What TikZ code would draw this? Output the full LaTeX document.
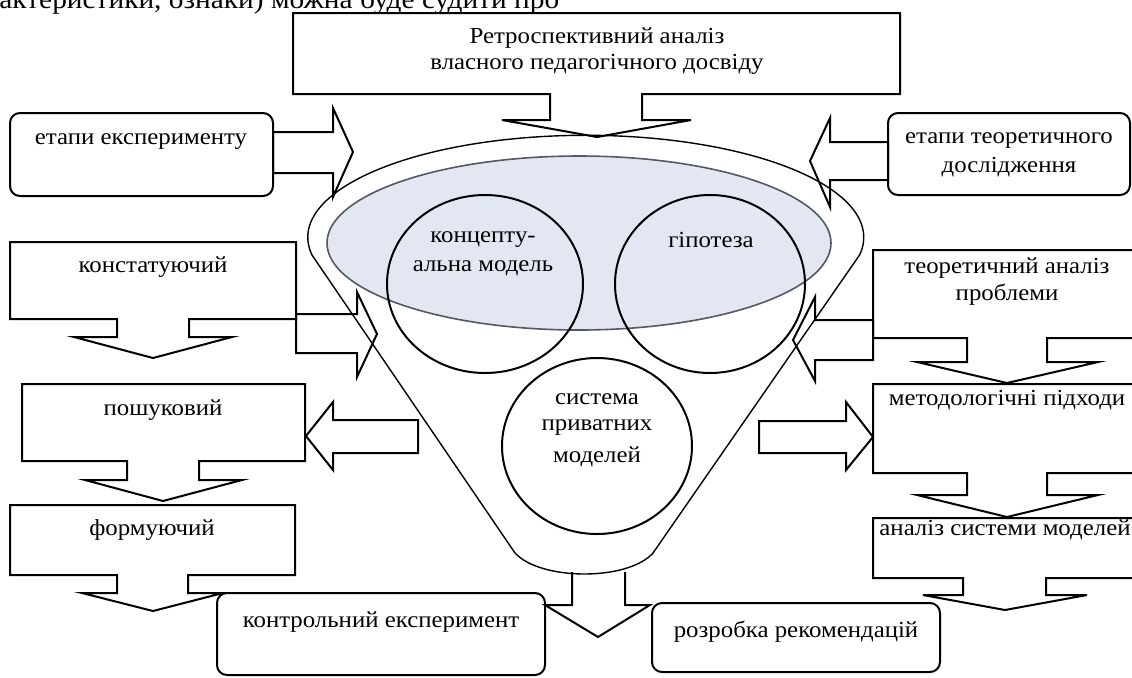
\documentclass[tikz,border=0pt]{standalone}
\usepackage{fontspec}
\setmainfont{Liberation Serif}[FakeStretch=1.08]
\definecolor{rimfill}{RGB}{226,231,241}
\definecolor{rimline}{RGB}{85,88,100}

\begin{document}
\begin{tikzpicture}[x=0.5pt,y=-0.5pt,
  blk/.style={draw, line width=1pt, line join=miter},
  fun/.style={draw, line width=0.7pt},
  txt/.style={inner sep=0pt, align=center, font=\fontsize{11.5pt}{13pt}\selectfont}]
\clip (0,0) rectangle (1132,677);
\node[anchor=base west, inner sep=0pt, font=\fontsize{13.6pt}{16pt}\selectfont] (prev) at (-43,8) {характеристики, ознаки) можна буде судити про};
\draw[rimline, fill=rimfill, line width=0.8pt] (579,243) ellipse[x radius=252, y radius=87];
\draw[fun] (515,553) -- (312,255) arc[start angle=170, end angle=370, x radius=278, y radius=102] -- (653,553) .. controls (628,581) and (541,581) .. (515,553);
\draw[blk] (485,284) ellipse[x radius=98, y radius=89];
\draw[blk] (710,284) ellipse[x radius=95, y radius=89];
\draw[blk] (597,446) ellipse[x radius=95, y radius=88];
\draw[blk] (293,13) -- (900,13) -- (900,94) -- (642,94) -- (642,120) -- (691,120) -- (597,137) -- (502,120) -- (550,120) -- (550,94) -- (293,94) -- cycle;
\draw[blk, rounded corners=5pt] (10,113) rectangle (273,196);
\draw[blk] (273,132) -- (333,132) -- (333,108) -- (353,152) -- (333,197) -- (333,173) -- (273,173) -- cycle;
\draw[blk, rounded corners=5pt] (888,113) rectangle (1130,195);
\draw[blk] (888,142) -- (830,142) -- (830,118) -- (810,161) -- (830,207) -- (830,180) -- (888,180) -- cycle;
\draw[blk] (10,242) -- (296,242) -- (296,319) -- (189,319) -- (189,337) -- (232,337) -- (153,358) -- (74,337) -- (117,337) -- (117,319) -- (10,319) -- cycle;
\draw[blk] (296,314) -- (357,314) -- (357,292) -- (377,334) -- (357,377) -- (357,353) -- (296,353) -- cycle;
\draw[blk] (22,384) -- (305,384) -- (305,461) -- (199,461) -- (199,480) -- (242,480) -- (163,501) -- (85,480) -- (127,480) -- (127,461) -- (22,461) -- cycle;
\draw[blk] (418,420) -- (333,420) -- (333,402) -- (306,436) -- (333,470) -- (333,453) -- (418,453) -- cycle;
\draw[blk] (10,505) -- (295,505) -- (295,575) -- (188,575) -- (188,593) -- (223,593) -- (153,611) -- (82,593) -- (117,593) -- (117,575) -- (10,575) -- cycle;
\draw[blk] (873,250) -- (1141,250) -- (1141,338) -- (1047,338) -- (1047,362) -- (1098,362) -- (1007,383) -- (917,362) -- (967,362) -- (967,338) -- (873,338) -- cycle;
\draw[blk] (873,320) -- (815,320) -- (815,297) -- (793,340) -- (815,381) -- (815,360) -- (873,360) -- cycle;
\draw[blk] (873,384) -- (1141,384) -- (1141,473) -- (1047,473) -- (1047,495) -- (1098,495) -- (1007,517) -- (917,495) -- (967,495) -- (967,473) -- (873,473) -- cycle;
\draw[blk] (759,421) -- (846,421) -- (846,402) -- (873,437) -- (846,470) -- (846,453) -- (759,453) -- cycle;
\draw[blk] (873,518) -- (1141,518) -- (1141,578) -- (1046,578) -- (1046,595) -- (1087,595) -- (1005,610) -- (923,595) -- (963,595) -- (963,578) -- (873,578) -- cycle;
\draw[blk] (572,572) -- (572,605) -- (545,605) -- (598,637) -- (650,605) -- (625,605) -- (625,572);
\draw[blk, rounded corners=5pt] (217,593) rectangle (545,675);
\draw[blk, rounded corners=5pt] (652,603) rectangle (940,672);
\node[txt] (retro) at (597,38) {Ретроспективний аналіз};
\node[txt] (retro2) at (597,64) {власного педагогічного досвіду};
\node[txt] (etexp) at (141,142) {етапи експерименту};
\node[txt] (etteor) at (1009,141) {етапи теоретичного};
\node[txt] (etteor2) at (1009,167) {дослідження};
\node[txt] (konst) at (153,267) {констатуючий};
\node[txt] (poshuk) at (163,410) {пошуковий};
\node[txt] (form) at (152,530) {формуючий};
\node[txt] (teor) at (1007,268) {теоретичний аналіз};
\node[txt] (teor2) at (1007,295) {проблеми};
\node[txt] (metod) at (1007,400) {методологічні підходи};
\node[txt] (analiz) at (1005,530) {аналіз системи моделей};
\node[txt] (kontr) at (381,622) {контрольний експеримент};
\node[txt] (rozr) at (796,632) {розробка рекомендацій};
\node[txt] (konc) at (483,240) {концепту-};
\node[txt] (konc2) at (483,268) {альна модель};
\node[txt] (hip) at (711,240) {гіпотеза};
\node[txt] (sys) at (597,399) {система};
\node[txt] (sys2) at (597,428) {приватних};
\node[txt] (sys3) at (597,457) {моделей};
\end{tikzpicture}
\end{document}
